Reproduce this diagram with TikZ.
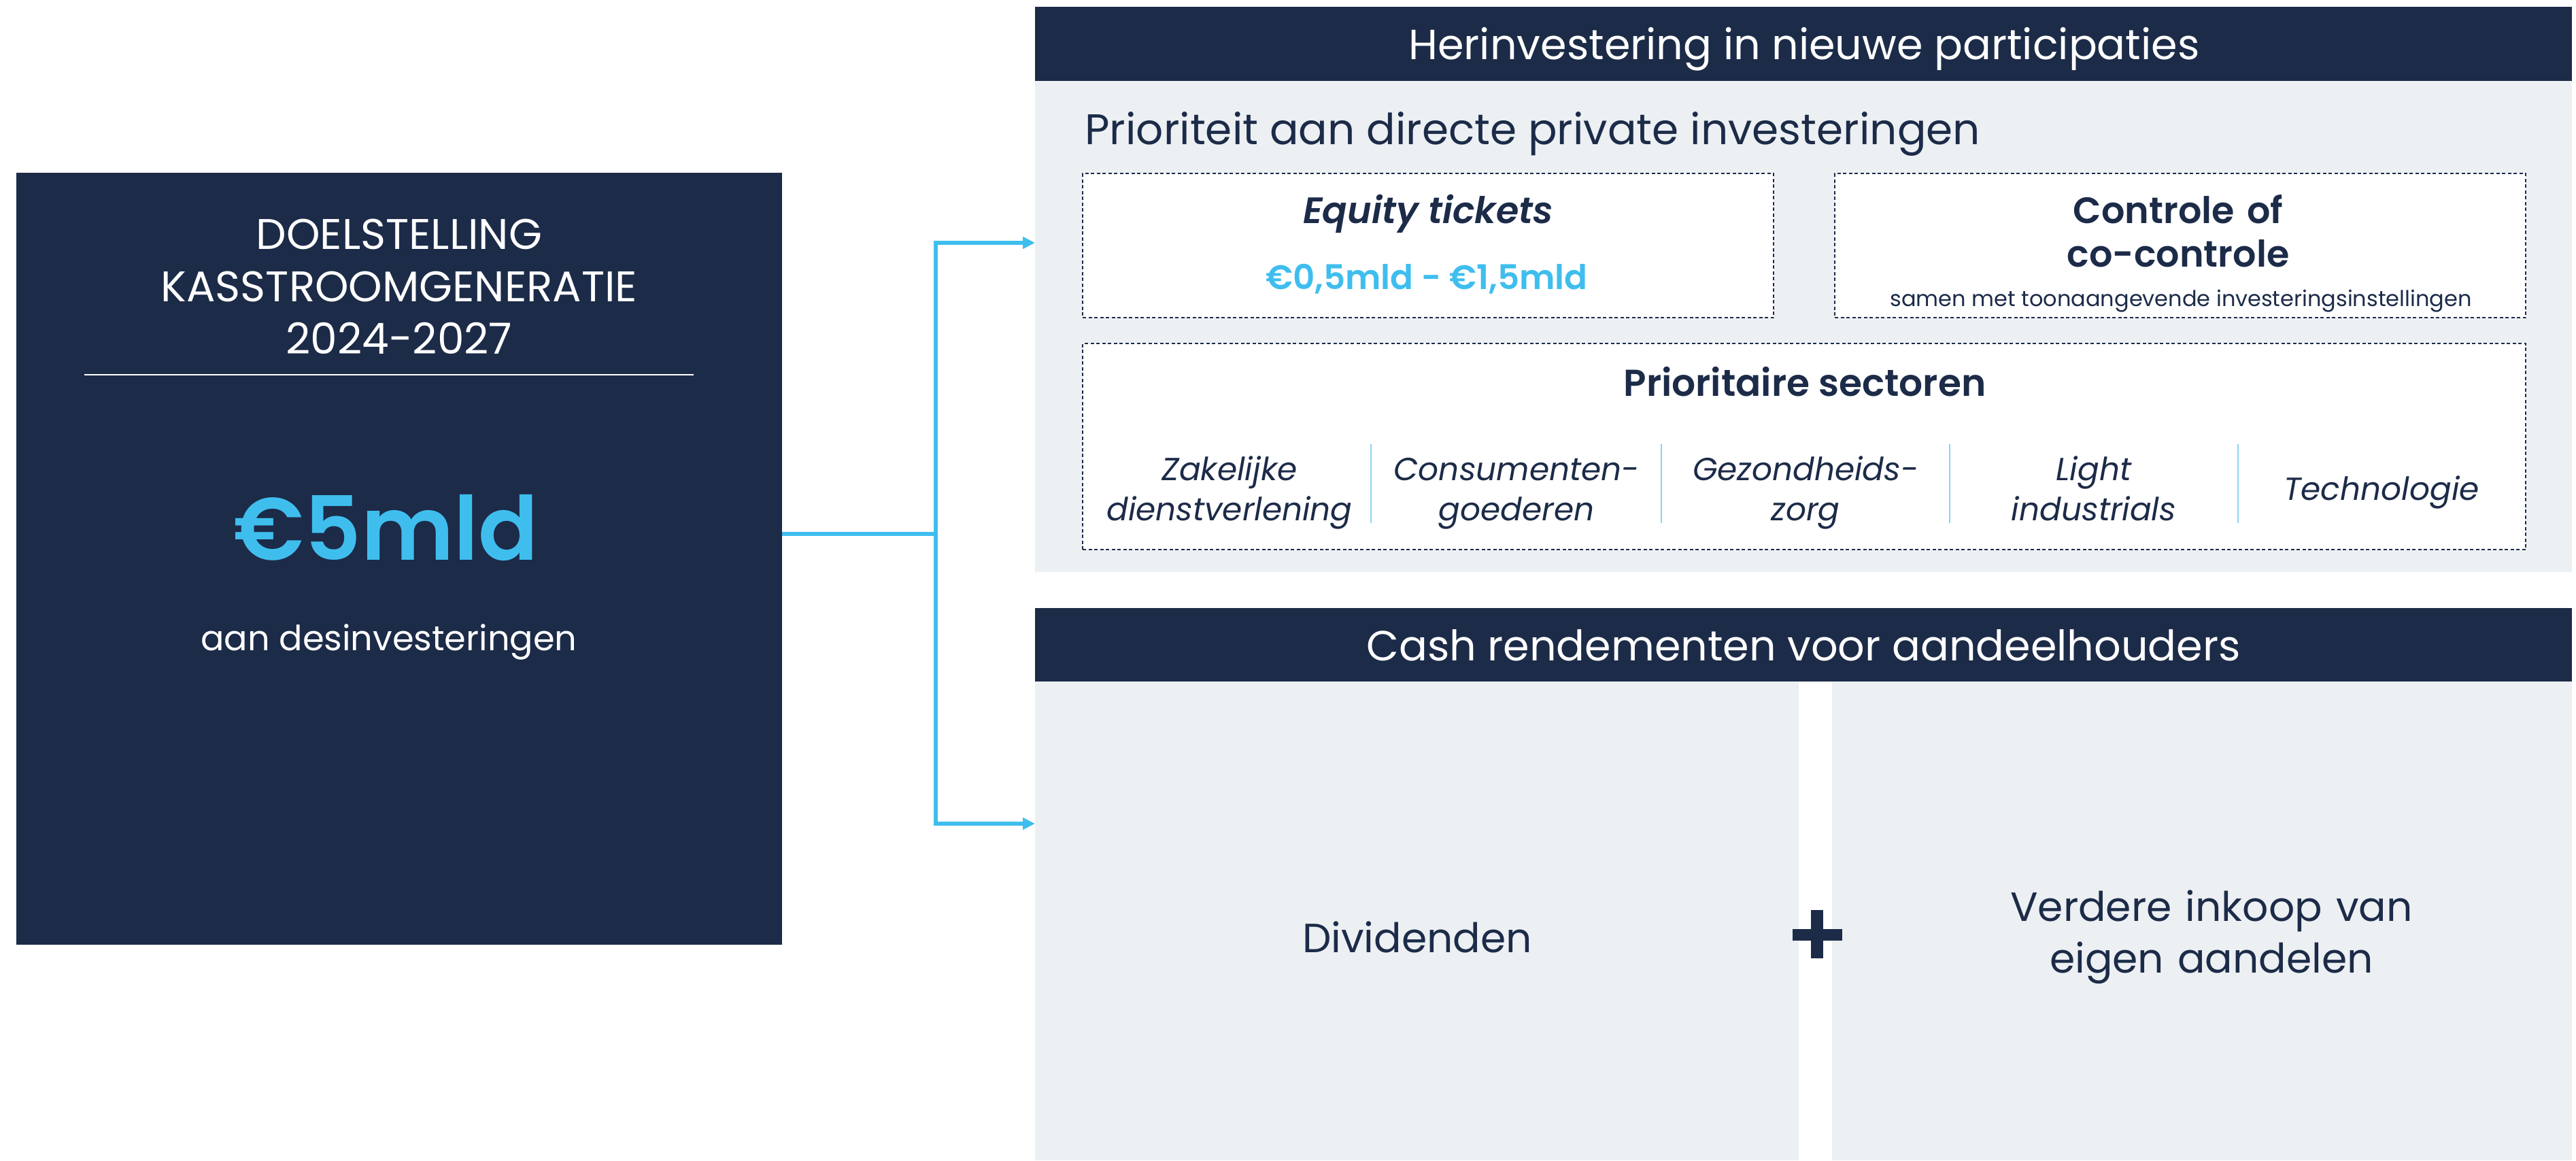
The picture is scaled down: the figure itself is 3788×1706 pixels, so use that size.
\documentclass[tikz,border=0pt]{standalone}
\usepackage{fontspec}
\setmainfont{Poppins}[BoldFont={Poppins SemiBold}, BoldItalicFont={Poppins SemiBold Italic}]
\usetikzlibrary{arrows.meta, positioning}

\definecolor{navy}{RGB}{28,43,72}
\definecolor{sky}{RGB}{63,190,238}
\definecolor{paleblue}{RGB}{236,240,243}
\definecolor{rule}{RGB}{140,212,242}

\newcommand\fsize[2]{\fontsize{#1}{#2}\selectfont}

\tikzset{
	bar/.style = {fill=navy, inner sep=0pt, outer sep=0pt},
	panel/.style = {fill=paleblue, inner sep=0pt, outer sep=0pt},
	dashbox/.style = {draw=navy, fill=white, line width=2pt, dash pattern=on 5pt off 3.5pt, inner sep=0pt, outer sep=0pt},
	txt/.style = {anchor=base, inner sep=0pt, text=navy, align=center},
	sector/.style = {txt, text width=400pt, font=\fsize{47}{59}\itshape},
	wire/.style = {draw=sky, line width=5.5pt},
	flow/.style = {wire, -{Triangle[length=18pt, width=17pt]}},
}

\begin{document}
\begin{tikzpicture}[x=1pt, y=-1pt]
	\path [use as bounding box, fill=white] (0,0) rectangle (3788,1706);

	% left: the cash target
	\node (goal) [bar, minimum width=1126pt, minimum height=1135pt] at (587,821.5) {};
	\node (goaltitle) [txt, text=white, text width=1000pt, font=\fsize{63}{77}] at (587,366)
		{DOELSTELLING\\KASSTROOMGENERATIE\\2024-2027};
	\draw [white, line width=2pt] (124,551) -- (1020,551);
	\node (amount) [txt, text=sky, font=\fsize{130}{150}\bfseries] at (568,823) {€5mld};
	\node (amountsub) [txt, text=white, font=\fsize{51}{64}] at (572,956) {aan desinvesteringen};

	% top right: reinvesting
	\node (reinvest) [bar, minimum width=2260pt, minimum height=109pt] at (2652,64.5) {};
	\node (reinvesttitle) [txt, text=white, font=\fsize{62}{70}] at (2653,87) {Herinvestering in nieuwe participaties};
	\node (reinvestpanel) [panel, minimum width=2260pt, minimum height=722pt, below=0pt of reinvest] {};
	\node (direct) [txt, anchor=base west, font=\fsize{63}{70}] at (1595,212) {Prioriteit aan directe private investeringen};

	\node (tickets) [dashbox, minimum width=1016pt, minimum height=212pt] at (2100,361) {};
	\node (ticketstitle) [txt, font=\fsize{54}{60}\bfseries\itshape] at (2100,328) {Equity tickets};
	\node (ticketsize) [txt, text=sky, font=\fsize{50}{60}\bfseries] at (2098,425) {€0,5mld - €1,5mld};

	\node (control) [dashbox, minimum width=1016pt, minimum height=212pt, right=90pt of tickets] {};
	\node (controltitle) [txt, text width=900pt, font=\fsize{54}{64}\bfseries] at (3203,328) {Controle of\\co-controle};
	\node (controlnote) [txt, font=\fsize{32}{36}] at (3207,450) {samen met toonaangevende investeringsinstellingen};

	\node (sectors) [dashbox, minimum width=2122pt, minimum height=303pt] at (2653,656.5) {};
	\node (sectorstitle) [txt, font=\fsize{55}{60}\bfseries] at (2654,582) {Prioritaire sectoren};
	\foreach \x in {2016,2443,2867,3291}
		\draw [rule, line width=2pt] (\x,653) -- (\x,769);
	\node (business) [sector] at (1808,706) {Zakelijke\\dienstverlening};
	\node (consumer) [sector] at (2230,706) {Consumenten-\\goederen};
	\node (health) [sector] at (2655,706) {Gezondheids-\\zorg};
	\node (industrial) [sector] at (3079,706) {Light\\industrials};
	\node (tech) [sector] at (3502,735) {Technologie};

	% bottom right: returns to shareholders
	\node (returns) [bar, minimum width=2260pt, minimum height=108pt] at (2652,948) {};
	\node (returnstitle) [txt, text=white, font=\fsize{62}{70}] at (2652,971) {Cash rendementen voor aandeelhouders};
	\node (dividends) [panel, minimum width=1123pt, minimum height=704pt, below right=0pt of returns.south west] {};
	\node (buyback) [panel, minimum width=1088pt, minimum height=704pt, below left=0pt of returns.south east] {};
	\node (dividendstext) [txt, font=\fsize{60}{76}] at (2084,1400) {Dividenden};
	\node (buybacktext) [txt, text width=700pt, font=\fsize{60}{76}] at (3252,1354) {Verdere inkoop van\\eigen aandelen};
	\fill [navy] (2636,1366) rectangle (2709,1383);
	\fill [navy] (2663,1338) rectangle (2681,1409);

	% split of the proceeds
	\coordinate (fork) at (1376,785);
	\coordinate (reinvestin) at (1522,357);
	\coordinate (returnsin) at (1522,1211);
	\draw [wire] (goal.east |- fork) -- (fork);
	\draw [flow] (fork) |- (reinvestin);
	\draw [flow] (fork) |- (returnsin);
\end{tikzpicture}
\end{document}
